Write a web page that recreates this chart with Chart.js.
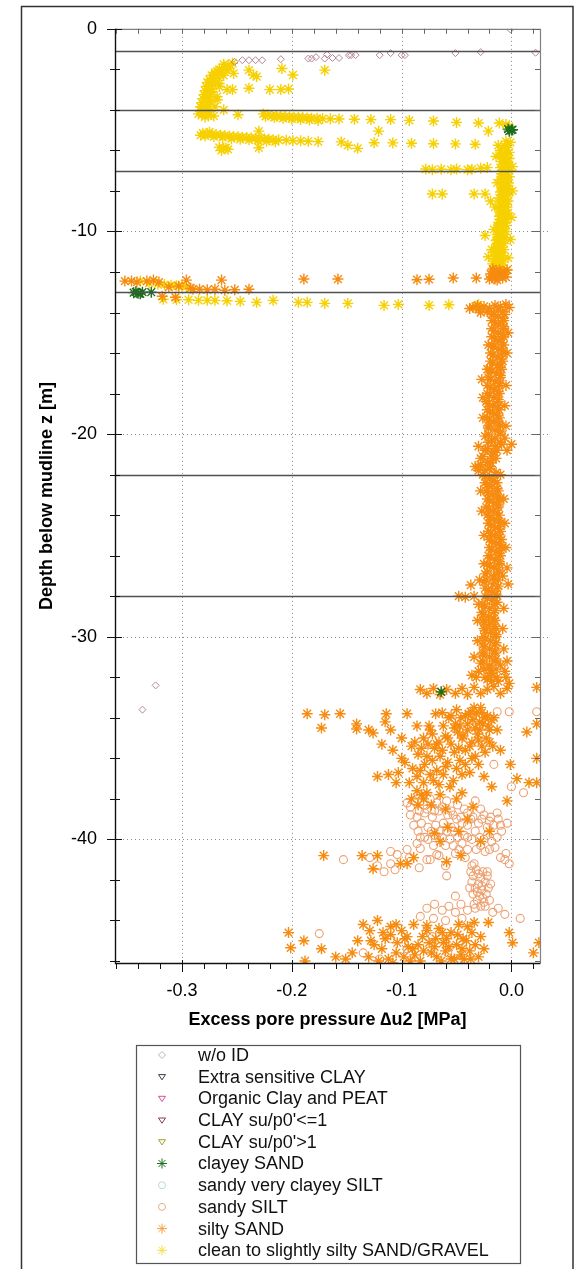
<!DOCTYPE html>
<html>
<head>
<meta charset="utf-8">
<script src="https://cdn.jsdelivr.net/npm/chart.js@4.4.1/dist/chart.umd.min.js"></script>
<style>
  html, body { margin: 0; padding: 0; background: #fff; }
  canvas { display: block; }
</style>
</head>
<body>
<canvas id="cptChart" width="575" height="1269"></canvas>
<script>
// --- Dados: [Δu2 (MPa), z (m)] ---

const seriesNames = [
    'w/o ID',
    'Extra sensitive CLAY',
    'Organic Clay and PEAT',
    "CLAY su/p0'<=1",
    "CLAY su/p0'>1",
    'clayey SAND',
    'sandy very clayey SILT',
    'sandy SILT',
    'silty SAND',
    'clean to slightly silty SAND/GRAVEL'
];

const xTickValues = [-0.3, -0.2, -0.1, 0.0];
const yTickValues = [0, -10, -20, -30, -40];
const layerDepths = [-1.1, -4, -7, -13, -22, -28];

const woId = [
    [-0.252,-1.63],[-0.245,-1.55],[-0.239,-1.55],[-0.233,-1.55],[-0.227,-1.55],[-0.210,-1.50],
    [-0.185,-1.47],[-0.182,-1.47],[-0.178,-1.40],[-0.170,-1.47],[-0.168,-1.27],[-0.163,-1.44],
    [-0.157,-1.44],[-0.148,-1.30],[-0.146,-1.30],[-0.142,-1.30],[-0.120,-1.30],[-0.110,-1.20],
    [-0.100,-1.30],[-0.097,-1.30],[-0.051,-1.20],[-0.028,-1.15],[-0.001,-0.03],[0.022,-1.18],
    [-0.324,-32.4],[-0.336,-33.6]
];
const extraSensitiveClay = [];
const organicClayPeat = [];
const claySuLow = [];
const claySuHigh = [];

const clayeySand = [
    [-0.003,-4.95],[0.000,-5.00],[-0.002,-5.05],[0.001,-4.98],
    [-0.344,-13.02],[-0.340,-13.05],[-0.336,-13.00],[-0.342,-12.98],[-0.338,-13.08],[-0.328,-13.00],
    [-0.064,-32.72]
];

const sandyVeryClayeySilt = [];

const sandySilt = [
    [-0.013,-33.7],[-0.002,-33.7],[0.023,-33.7],[-0.016,-36.3],[0.000,-37.4],[0.011,-37.7],
    [-0.095,-38.2],[-0.089,-38.1],[-0.080,-38.3],[-0.074,-38.0],[-0.068,-38.2],[-0.059,-38.1],[-0.049,-38.3],[-0.033,-38.1],
    [-0.092,-38.8],[-0.086,-38.9],[-0.079,-38.7],[-0.072,-38.9],[-0.066,-38.6],[-0.053,-38.8],[-0.046,-38.9],
    [-0.040,-38.7],[-0.025,-38.8],[-0.019,-38.9],[-0.013,-38.7],
    [-0.089,-39.3],[-0.082,-39.2],[-0.076,-39.4],[-0.069,-39.3],[-0.062,-39.2],[-0.055,-39.4],[-0.040,-39.3],
    [-0.030,-39.2],[-0.022,-39.4],[-0.016,-39.3],[-0.010,-39.3],[-0.004,-39.2],
    [-0.083,-39.9],[-0.076,-40.0],[-0.070,-39.8],[-0.063,-39.9],[-0.056,-40.0],[-0.049,-39.9],[-0.043,-39.8],
    [-0.036,-40.0],[-0.029,-39.9],[-0.022,-39.8],[-0.013,-39.9],
    [-0.092,-38.4],[-0.077,-38.5],[-0.063,-38.4],[-0.055,-38.6],[-0.043,-38.5],[-0.037,-39.0],[-0.027,-39.0],
    [-0.085,-39.6],[-0.073,-39.6],[-0.065,-39.6],[-0.052,-39.6],[-0.045,-39.2],[-0.033,-39.6],[-0.018,-40.1],
    [-0.009,-39.6],[-0.086,-40.2],[-0.060,-40.3],[-0.045,-40.2],[-0.040,-40.5],
    [-0.070,-38.6],[-0.084,-38.6],[-0.058,-38.8],[-0.050,-39.0],[-0.035,-38.9],[-0.028,-38.5],[-0.020,-39.1],
    [-0.012,-39.0],[-0.079,-39.9],[-0.059,-39.6],[-0.040,-39.9],[-0.025,-40.0],[-0.071,-40.3],[-0.053,-40.3],
    [-0.032,-40.5],[-0.015,-40.4],
    [-0.110,-40.6],[-0.104,-40.75],[-0.095,-40.5],[-0.083,-40.45],[-0.077,-41.0],[-0.068,-40.75],[-0.059,-41.8],
    [-0.051,-40.7],[-0.034,-41.2],[-0.024,-40.6],[-0.005,-40.7],[-0.002,-41.2],
    [-0.153,-41.0],[-0.129,-40.9],[-0.122,-41.3],[-0.116,-41.6],[-0.110,-41.2],[-0.106,-41.5],
    [-0.093,-40.9],[-0.084,-41.4],[-0.074,-41.0],[-0.066,-40.8],[-0.060,-41.3],[-0.048,-40.5],[-0.042,-40.9],
    [-0.036,-41.3],[-0.028,-40.3],[-0.020,-40.5],[-0.010,-40.9],[-0.006,-41.0],
    [-0.032,-41.5],[-0.026,-41.6],[-0.035,-41.8],[-0.028,-41.9],[-0.022,-41.8],[-0.036,-42.1],[-0.030,-42.2],
    [-0.024,-42.1],[-0.033,-42.4],[-0.027,-42.5],[-0.021,-42.4],[-0.035,-42.7],[-0.029,-42.8],[-0.023,-42.7],
    [-0.031,-43.0],[-0.025,-43.1],[-0.028,-43.3],[-0.034,-43.2],[-0.020,-43.0],[-0.030,-41.7],[-0.027,-42.3],
    [-0.031,-42.6],[-0.026,-42.9],[-0.038,-42.4],[-0.019,-42.2],[-0.022,-41.6],[-0.037,-41.6],[-0.033,-43.4],[-0.024,-43.3],
    [-0.077,-43.4],[-0.070,-43.2],[-0.063,-43.5],[-0.057,-43.3],[-0.051,-43.6],[-0.046,-43.2],[-0.040,-43.5],
    [-0.017,-43.6],[-0.012,-43.4],[-0.006,-43.7],[0.008,-43.9],[-0.051,-42.8],[-0.083,-43.8],[-0.071,-43.9],
    [-0.060,-44.0],[-0.045,-43.9],
    [-0.175,-44.65],[-0.110,-44.9],[-0.095,-45.4],[-0.072,-44.8],[-0.058,-45.6],[-0.048,-46.0],[-0.120,-45.9],[-0.135,-45.6]
];

const siltySand = [
    // camada -12 a -13
    [-0.352,-12.45],[-0.346,-12.45],[-0.341,-12.50],[-0.332,-12.45],[-0.326,-12.40],[-0.321,-12.50],[-0.312,-12.75],
    [-0.303,-12.70],[-0.296,-12.40],[-0.292,-12.80],[-0.290,-12.85],[-0.284,-12.85],[-0.277,-12.88],[-0.270,-12.85],
    [-0.264,-12.40],[-0.261,-12.90],[-0.252,-12.88],[-0.239,-12.85],[-0.318,-13.20],[-0.306,-13.25],
    [-0.189,-12.35],[-0.158,-12.35],[-0.086,-12.38],[-0.075,-12.36],[-0.053,-12.30],[-0.032,-12.30],
    [-0.016,-11.95],[-0.010,-12.00],[-0.014,-12.10],[-0.006,-12.05],[-0.012,-12.20],[-0.018,-12.25],[-0.008,-12.30],
    [-0.013,-12.40],[-0.020,-12.35],[-0.017,-11.85],[-0.004,-11.90],[-0.009,-12.15],[-0.015,-12.35],[-0.005,-12.25],
    [-0.011,-11.90],[-0.019,-12.10],
    // coluna -13.6 a -32.8
    [-0.035,-13.75],[-0.030,-13.85],[-0.025,-13.70],[-0.020,-13.80],[-0.015,-13.65],[-0.010,-13.70],[-0.005,-13.60],
    [-0.002,-13.75],[-0.012,-13.90],[-0.022,-13.95],[-0.028,-14.00],[-0.008,-13.95],[-0.018,-14.10],[-0.006,-14.10],
    [-0.031,-13.65],[-0.038,-13.80],
    [-0.016,-14.1],[-0.008,-14.3],[-0.015,-14.5],[-0.007,-14.7],[-0.016,-14.9],[-0.008,-15.1],[-0.015,-15.3],
    [-0.009,-15.5],[-0.016,-15.7],[-0.008,-15.9],[-0.017,-16.1],[-0.009,-16.3],[-0.017,-16.5],[-0.010,-16.7],
    [-0.018,-16.9],[-0.010,-17.1],[-0.027,-17.3],[-0.019,-17.3],[-0.011,-17.5],[-0.019,-17.7],[-0.012,-17.9],
    [-0.020,-18.1],[-0.012,-18.3],[-0.021,-18.5],[-0.013,-18.7],[-0.020,-18.9],[-0.012,-19.1],[-0.020,-19.3],
    [-0.011,-19.5],[-0.021,-19.7],[-0.010,-19.9],[-0.024,-20.1],[-0.006,-20.2],[-0.018,-20.3],[-0.009,-20.5],
    [-0.022,-20.7],[-0.004,-20.8],[-0.016,-20.9],[-0.026,-21.1],[-0.014,-21.2],[-0.028,-21.5],[-0.019,-21.4],
    [-0.030,-21.8],[-0.020,-21.7],[-0.014,-21.9],[-0.024,-22.1],[-0.016,-22.3],[-0.022,-22.5],[-0.013,-22.7],
    [-0.021,-22.9],[-0.013,-23.1],[-0.020,-23.3],[-0.012,-23.5],[-0.021,-23.7],[-0.013,-23.9],[-0.020,-24.1],
    [-0.012,-24.3],[-0.019,-24.5],[-0.011,-24.7],[-0.019,-24.9],[-0.011,-25.1],[-0.018,-25.3],[-0.010,-25.5],
    [-0.018,-25.7],[-0.011,-25.9],[-0.019,-26.1],[-0.011,-26.3],[-0.020,-26.5],[-0.012,-26.7],[-0.024,-26.9],
    [-0.008,-27.0],[-0.016,-27.1],[-0.037,-27.45],[-0.025,-27.3],[-0.012,-27.5],[-0.021,-27.7],[-0.048,-28.0],
    [-0.042,-28.05],[-0.034,-28.0],[-0.014,-27.9],[-0.022,-28.1],[-0.013,-28.3],[-0.024,-28.5],[-0.015,-28.7],
    [-0.026,-28.9],[-0.016,-29.1],[-0.025,-29.3],[-0.015,-29.5],[-0.024,-29.7],[-0.014,-29.9],[-0.024,-30.1],
    [-0.014,-30.3],[-0.025,-30.5],[-0.015,-30.7],[-0.026,-30.9],[-0.014,-31.1],[-0.028,-31.3],[-0.010,-31.4],
    [-0.020,-31.5],[-0.030,-31.7],[-0.006,-31.7],[-0.018,-31.8],[-0.032,-32.0],[-0.005,-32.0],[-0.022,-32.1],
    [-0.012,-32.2],
    [-0.012,-14.2],[-0.012,-14.6],[-0.012,-15.0],[-0.012,-15.4],[-0.012,-15.8],[-0.013,-16.2],[-0.013,-16.6],
    [-0.014,-17.0],[-0.015,-17.4],[-0.016,-17.8],[-0.016,-18.2],[-0.017,-18.6],[-0.016,-19.0],[-0.016,-19.4],
    [-0.015,-19.8],[-0.015,-20.2],[-0.015,-20.6],[-0.018,-21.0],[-0.022,-21.4],[-0.024,-21.8],[-0.020,-22.2],
    [-0.018,-22.6],[-0.017,-23.0],[-0.016,-23.4],[-0.017,-23.8],[-0.016,-24.2],[-0.015,-24.6],[-0.015,-25.0],
    [-0.014,-25.4],[-0.014,-25.8],[-0.015,-26.2],[-0.016,-26.6],[-0.016,-27.0],[-0.017,-27.4],[-0.018,-27.8],
    [-0.018,-28.2],[-0.020,-28.6],[-0.021,-29.0],[-0.020,-29.4],[-0.019,-29.8],[-0.019,-30.2],[-0.020,-30.6],
    [-0.020,-31.0],[-0.020,-31.4],[-0.019,-31.8],[-0.018,-32.2],
    [-0.018,-14.4],[-0.018,-14.8],[-0.018,-15.2],[-0.018,-15.6],[-0.019,-16.0],[-0.019,-16.4],[-0.020,-16.8],
    [-0.021,-17.2],[-0.022,-17.6],[-0.022,-18.0],[-0.023,-18.4],[-0.022,-18.8],[-0.022,-19.2],[-0.021,-19.6],
    [-0.021,-20.0],[-0.021,-20.4],[-0.024,-20.8],[-0.028,-21.2],[-0.030,-21.6],[-0.026,-22.0],[-0.024,-22.4],
    [-0.023,-22.8],[-0.022,-23.2],[-0.023,-23.6],[-0.022,-24.0],[-0.021,-24.4],[-0.021,-24.8],[-0.020,-25.2],
    [-0.020,-25.6],[-0.021,-26.0],[-0.022,-26.4],[-0.022,-26.8],[-0.023,-27.2],[-0.024,-27.6],[-0.024,-28.0],
    [-0.026,-28.4],[-0.027,-28.8],[-0.026,-29.2],[-0.025,-29.6],[-0.025,-30.0],[-0.026,-30.4],[-0.026,-30.8],
    [-0.026,-31.2],[-0.025,-31.6],[-0.024,-32.0],
    [-0.007,-14.4],[-0.007,-14.8],[-0.007,-15.2],[-0.007,-15.6],[-0.008,-16.0],[-0.008,-16.4],[-0.009,-16.8],
    [-0.010,-17.2],[-0.011,-17.6],[-0.011,-18.0],[-0.012,-18.4],[-0.011,-18.8],[-0.011,-19.2],[-0.010,-19.6],
    [-0.010,-20.0],[-0.010,-20.4],[-0.013,-20.8],[-0.017,-21.2],[-0.019,-21.6],[-0.015,-22.0],[-0.013,-22.4],
    [-0.012,-22.8],[-0.011,-23.2],[-0.012,-23.6],[-0.011,-24.0],[-0.010,-24.4],[-0.010,-24.8],[-0.009,-25.2],
    [-0.009,-25.6],[-0.010,-26.0],[-0.011,-26.4],[-0.011,-26.8],[-0.012,-27.2],[-0.013,-27.6],[-0.013,-28.0],
    [-0.015,-28.4],[-0.016,-28.8],[-0.015,-29.2],[-0.014,-29.6],[-0.014,-30.0],[-0.015,-30.4],[-0.015,-30.8],
    [-0.015,-31.2],[-0.014,-31.6],[-0.013,-32.0],
    [-0.003,-15.0],[-0.021,-15.6],[-0.004,-16.0],[-0.022,-16.8],[-0.005,-17.6],[-0.026,-18.2],[-0.006,-18.6],
    [-0.026,-19.2],[-0.005,-19.6],[-0.030,-20.6],[0.000,-20.5],[-0.033,-21.6],[-0.010,-22.0],[-0.028,-22.8],
    [-0.007,-23.2],[-0.027,-23.8],[-0.006,-24.4],[-0.025,-25.0],[-0.005,-25.6],[-0.025,-26.4],[-0.004,-26.6],
    [-0.029,-27.2],[-0.003,-27.4],[-0.030,-28.4],[-0.007,-28.6],[-0.031,-29.2],[-0.008,-29.6],[-0.031,-30.2],
    [-0.007,-30.6],[-0.034,-31.0],[-0.004,-31.2],[-0.036,-31.9],[-0.002,-32.3],
    [-0.083,-32.6],[-0.077,-32.8],[-0.071,-32.55],[-0.065,-32.85],[-0.059,-32.6],[-0.051,-32.8],[-0.045,-32.55],
    [-0.040,-32.85],[-0.034,-32.5],[-0.028,-32.8],[-0.022,-32.6],[-0.016,-32.45],[-0.010,-32.8],[-0.004,-32.55],
    [0.023,-32.5],
    // zona profunda -33.5 a -46
    [-0.186,-33.8],[-0.170,-33.85],[-0.156,-33.8],[-0.173,-34.5],[-0.141,-34.3],[-0.141,-34.55],[-0.130,-34.6],
    [-0.126,-34.75],[-0.114,-33.8],[-0.115,-34.2],[-0.110,-34.6],[-0.100,-35.0],[-0.095,-33.8],[-0.086,-34.4],
    [-0.075,-34.4],[-0.069,-33.8],[-0.063,-33.75],[-0.062,-34.4],[-0.051,-34.3],
    [-0.042,-33.9],[-0.037,-33.7],[-0.032,-33.8],[-0.027,-33.75],[-0.022,-33.9],[-0.035,-34.1],[-0.029,-34.2],
    [-0.024,-34.0],[-0.018,-34.1],[-0.013,-34.6],[-0.010,-35.6],[-0.001,-36.3],[0.014,-34.7],[0.023,-34.3],[0.023,-36.0],
    [-0.050,-33.6],[-0.046,-34.0],[-0.040,-34.3],[-0.033,-34.5],[-0.026,-34.3],[-0.020,-34.6],[-0.016,-34.0],
    [-0.044,-34.9],[-0.038,-35.4],[-0.030,-35.1],[-0.023,-35.0],[-0.048,-35.5],[-0.057,-34.0],[-0.058,-35.0],
    [-0.034,-33.5],[-0.028,-33.5],
    [-0.055,-33.9],[-0.047,-34.4],[-0.039,-33.8],[-0.021,-34.4],[-0.017,-35.4],[-0.029,-34.6],[-0.052,-34.5],
    [-0.068,-35.3],[-0.074,-34.6],[-0.050,-36.5],[-0.042,-36.3],[-0.036,-36.0],[-0.080,-37.2],[-0.066,-37.3],
    [-0.100,-36.0],[-0.105,-37.2],[-0.091,-38.0],[-0.073,-38.3],[-0.050,-38.0],
    [-0.080,-35.0],[-0.072,-34.8],[-0.066,-35.2],[-0.060,-34.9],[-0.055,-35.3],[-0.049,-34.7],[-0.045,-35.0],
    [-0.040,-34.6],[-0.036,-35.2],[-0.031,-34.8],[-0.027,-35.4],[-0.042,-35.6],[-0.052,-35.7],[-0.063,-35.6],
    [-0.070,-35.5],[-0.077,-35.9],[-0.085,-35.8],[-0.091,-35.4],[-0.033,-35.9],[-0.024,-35.7],[-0.020,-35.2],[-0.047,-36.1],
    [-0.088,-35.2],[-0.082,-35.5],[-0.076,-35.3],[-0.072,-36.1],[-0.065,-35.9],[-0.058,-36.2],[-0.079,-36.3],
    [-0.086,-36.9],[-0.071,-37.1],[-0.062,-36.8],[-0.056,-37.4],[-0.093,-37.2],[-0.097,-36.2],[-0.108,-35.6],[-0.118,-35.3],
    [-0.122,-36.9],[-0.112,-36.8],[-0.103,-36.7],[-0.090,-36.5],[-0.083,-36.6],[-0.074,-36.8],[-0.068,-36.6],
    [-0.053,-37.1],[-0.045,-36.8],[-0.038,-36.7],[-0.025,-36.9],[-0.018,-37.4],[0.005,-37.0],[0.016,-37.2],
    [0.023,-37.2],[-0.060,-36.4],[-0.030,-36.3],
    [-0.086,-37.6],[-0.082,-37.8],[-0.077,-37.7],[-0.080,-38.0],[-0.065,-37.8],[-0.045,-37.7],[-0.004,-38.1],
    [-0.085,-38.3],[-0.060,-38.5],[-0.035,-38.4],[-0.048,-39.6],[-0.070,-39.7],[-0.020,-39.6],
    [-0.058,-39.4],[-0.040,-39.0],[-0.028,-40.1],
    [-0.171,-40.8],[-0.136,-40.8],[-0.122,-40.8],[-0.126,-41.45],[-0.101,-41.2],[-0.095,-41.2],[-0.089,-40.9],
    [-0.065,-40.1],[-0.059,-41.1],[-0.046,-40.8],
    [-0.203,-44.6],[-0.201,-45.35],[-0.189,-45.0],[-0.188,-46.0],[-0.173,-45.4],[-0.129,-44.5],[-0.145,-45.6],
    [-0.151,-45.9],[-0.130,-45.8],[-0.110,-44.3],[-0.110,-44.7],[-0.104,-45.1],[-0.089,-44.2],[-0.077,-44.25],
    [-0.077,-44.5],[-0.075,-45.1],[-0.070,-45.3],[-0.059,-44.9],[-0.055,-44.6],[-0.050,-45.2],[-0.046,-45.7],
    [-0.040,-44.3],[-0.036,-44.6],[-0.033,-45.2],[-0.021,-44.1],[-0.002,-44.6],[0.001,-45.1],[0.020,-45.6],[0.025,-45.1],
    [-0.118,-45.4],[-0.112,-45.9],[-0.105,-45.6],[-0.098,-45.8],[-0.094,-45.3],[-0.088,-45.7],[-0.083,-46.0],
    [-0.080,-45.5],[-0.068,-45.8],[-0.064,-46.0],[-0.060,-45.5],[-0.052,-45.9],[-0.043,-45.9],[-0.038,-45.5],
    [-0.095,-44.8],[-0.066,-44.4],[-0.048,-44.2],
    [-0.140,-45.0],[-0.125,-45.2],[-0.115,-44.9],[-0.100,-44.5],[-0.092,-46.0],[-0.085,-45.2],[-0.073,-45.6],
    [-0.062,-45.1],[-0.055,-45.9],[-0.045,-45.4],[-0.041,-45.0],[-0.030,-45.8],[-0.025,-45.4],[-0.108,-46.1],
    [-0.121,-46.0],[-0.160,-45.8],[-0.135,-44.2],[-0.122,-44.0],
    [-0.128,-45.0],[-0.117,-44.6],[-0.105,-44.2],[-0.097,-44.9],[-0.090,-45.4],[-0.081,-44.8],[-0.069,-44.9],
    [-0.063,-44.6],[-0.057,-45.3],[-0.049,-44.7],[-0.044,-44.9],[-0.037,-45.9],[-0.034,-44.1],[-0.028,-44.8]
];

const cleanSand = [
    // arco -1.7 a -4.3
    [-0.254,-1.70],[-0.258,-1.80],[-0.262,-1.90],[-0.266,-2.00],[-0.259,-2.05],[-0.270,-2.15],[-0.264,-2.20],
    [-0.273,-2.30],[-0.267,-2.40],[-0.275,-2.50],[-0.270,-2.55],[-0.277,-2.65],[-0.272,-2.75],[-0.278,-2.85],
    [-0.273,-2.95],[-0.279,-3.05],[-0.274,-3.15],[-0.280,-3.25],[-0.275,-3.35],[-0.281,-3.45],[-0.276,-3.55],
    [-0.282,-3.65],[-0.277,-3.75],[-0.283,-3.85],[-0.278,-3.95],[-0.283,-4.05],[-0.278,-4.15],[-0.282,-4.25],[-0.276,-4.30],
    [-0.262,-1.75],[-0.268,-2.10],[-0.262,-2.30],[-0.271,-2.60],[-0.266,-2.85],[-0.273,-3.10],[-0.268,-3.35],
    [-0.274,-3.60],[-0.270,-3.85],[-0.276,-4.10],[-0.271,-4.30],[-0.257,-1.95],[-0.266,-2.70],[-0.268,-3.50],
    [-0.285,-4.20],[-0.279,-4.35],
    [-0.253,-2.20],[-0.239,-2.04],[-0.235,-2.28],[-0.232,-2.36],[-0.209,-1.96],[-0.199,-2.28],[-0.170,-2.04],
    [-0.259,-3.00],[-0.254,-3.00],[-0.239,-2.93],[-0.220,-3.00],[-0.210,-3.00],[-0.203,-2.97],[-0.262,-4.00],[-0.249,-4.24],
    // linha superior -4.2 a -4.8
    [-0.226,-4.20],[-0.222,-4.25],[-0.218,-4.28],[-0.214,-4.30],[-0.210,-4.32],[-0.206,-4.33],[-0.202,-4.35],
    [-0.198,-4.36],[-0.194,-4.37],[-0.190,-4.38],[-0.186,-4.40],[-0.182,-4.41],[-0.177,-4.42],[-0.172,-4.43],
    [-0.224,-4.32],[-0.216,-4.38],[-0.208,-4.42],[-0.200,-4.45],[-0.192,-4.47],[-0.184,-4.50],[-0.176,-4.52],
    [-0.165,-4.44],[-0.157,-4.45],[-0.143,-4.46],[-0.128,-4.48],[-0.121,-5.05],[-0.110,-4.48],[-0.093,-4.52],
    [-0.071,-4.55],[-0.050,-4.62],[-0.030,-4.65],[-0.021,-5.05],[-0.011,-4.65],[-0.005,-4.72],[-0.002,-4.82],
    // linha inferior -5.1 a -6.0
    [-0.281,-5.15],[-0.277,-5.18],[-0.273,-5.20],[-0.269,-5.22],[-0.265,-5.25],[-0.261,-5.27],[-0.257,-5.30],
    [-0.253,-5.32],[-0.249,-5.33],[-0.245,-5.35],[-0.241,-5.37],[-0.237,-5.38],[-0.233,-5.40],[-0.229,-5.42],
    [-0.225,-5.43],[-0.221,-5.45],[-0.217,-5.47],[-0.212,-5.48],[-0.205,-5.50],[-0.199,-5.52],[-0.192,-5.53],
    [-0.279,-5.28],[-0.271,-5.32],[-0.263,-5.36],[-0.255,-5.42],[-0.247,-5.45],[-0.239,-5.48],[-0.231,-5.50],
    [-0.223,-5.55],[-0.215,-5.57],[-0.275,-5.10],[-0.283,-5.25],
    [-0.185,-5.55],[-0.176,-5.57],[-0.155,-5.58],[-0.149,-5.75],[-0.140,-5.90],[-0.125,-5.62],[-0.108,-5.63],
    [-0.091,-5.65],[-0.071,-5.67],[-0.051,-5.68],[-0.033,-5.70],[-0.230,-5.05],[-0.230,-5.87],
    [-0.266,-5.85],[-0.262,-5.90],[-0.258,-5.95],[-0.264,-6.00],[-0.260,-5.88],
    // coluna -5.6 a -11.8
    [-0.012,-5.75],[-0.004,-5.85],[-0.010,-6.00],[-0.002,-6.10],[-0.009,-6.25],[-0.002,-6.40],[-0.009,-6.55],
    [-0.003,-6.70],[-0.010,-6.85],[-0.002,-7.00],[-0.009,-7.15],[-0.002,-7.30],[-0.010,-7.45],[-0.003,-7.60],
    [-0.009,-7.75],[-0.002,-7.90],[-0.010,-8.05],[-0.003,-8.20],[-0.011,-8.35],[-0.003,-8.50],[-0.010,-8.65],
    [-0.004,-8.80],[-0.011,-8.95],[-0.003,-9.10],[-0.011,-9.25],[-0.004,-9.40],[-0.012,-9.55],[-0.005,-9.70],
    [-0.012,-9.85],[-0.005,-10.00],[-0.013,-10.15],[-0.006,-10.30],[-0.014,-10.45],[-0.007,-10.60],[-0.014,-10.75],
    [-0.007,-10.90],[-0.015,-11.05],[-0.008,-11.20],[-0.015,-11.35],[-0.008,-11.50],[-0.014,-11.65],[-0.008,-11.80],
    [-0.006,-5.80],[-0.006,-6.20],[-0.005,-6.60],[-0.006,-7.00],[-0.005,-7.40],[-0.006,-7.80],[-0.007,-8.20],
    [-0.007,-8.60],[-0.007,-9.00],[-0.008,-9.40],[-0.009,-9.80],[-0.010,-10.20],[-0.011,-10.60],[-0.011,-11.00],
    [-0.012,-11.40],[-0.011,-11.80],
    [-0.004,-6.00],[-0.004,-6.40],[-0.003,-6.80],[-0.004,-7.20],[-0.003,-7.60],[-0.004,-8.00],[-0.005,-8.40],
    [-0.005,-8.80],[-0.005,-9.20],[-0.006,-9.60],[-0.007,-10.00],[-0.008,-10.40],[-0.009,-10.80],[-0.009,-11.20],
    [-0.010,-11.60],
    [-0.009,-6.00],[-0.008,-6.40],[-0.008,-6.80],[-0.008,-7.20],[-0.008,-7.60],[-0.009,-8.00],[-0.010,-8.40],
    [-0.010,-8.80],[-0.010,-9.20],[-0.011,-9.60],[-0.012,-10.00],[-0.013,-10.40],[-0.014,-10.80],[-0.014,-11.20],
    [-0.014,-11.60],
    [-0.014,-6.30],[0.001,-6.80],[-0.013,-7.60],[0.001,-8.00],[-0.015,-8.80],[0.000,-9.30],[-0.016,-9.90],
    [-0.001,-10.40],[-0.018,-10.90],[-0.003,-11.30],[-0.017,-11.60],[-0.004,-11.90],
    [-0.078,-6.92],[-0.072,-6.95],[-0.064,-6.93],[-0.055,-6.95],[-0.050,-6.92],[-0.040,-6.95],[-0.036,-6.93],
    [-0.028,-6.88],[-0.022,-6.85],[-0.072,-8.15],[-0.063,-8.15],[-0.034,-8.15],[-0.024,-8.15],[-0.019,-8.50],
    [-0.024,-10.20],[-0.021,-11.25],[-0.001,-5.60],[-0.005,-5.55],
    // -12.4 a -13.7
    [-0.338,-12.45],[-0.330,-12.55],[-0.322,-12.60],[-0.316,-12.62],[-0.310,-12.65],[-0.305,-12.68],[-0.300,-12.70],[-0.296,-12.72],
    [-0.317,-13.35],[-0.305,-13.37],[-0.294,-13.37],[-0.285,-13.40],[-0.277,-13.40],[-0.270,-13.40],[-0.259,-13.42],
    [-0.247,-13.45],[-0.232,-13.50],[-0.217,-13.40],[-0.194,-13.50],[-0.186,-13.50],[-0.170,-13.55],[-0.149,-13.55],
    [-0.116,-13.65],[-0.103,-13.60],[-0.075,-13.65],[-0.057,-13.62],[-0.033,-13.70],[-0.030,-13.62]
];

// Estilos das séries (na ordem da legenda)
const seriesData = [woId, extraSensitiveClay, organicClayPeat, claySuLow, claySuHigh,
                    clayeySand, sandyVeryClayeySilt, sandySilt, siltySand, cleanSand];
const seriesStyle = [
    { shape: 'rectRot', radius: 3.5, width: 1, color: '#b48592', legendColor: '#c8a8b8', order: 1 },
    { shape: 'triDown', radius: 4, width: 1, color: '#3a3a4a', legendColor: '#3a3a4a', order: 6 },
    { shape: 'triDown', radius: 4, width: 1, color: '#d0509a', legendColor: '#d0509a', order: 6 },
    { shape: 'triDown', radius: 4, width: 1, color: '#8a3a5a', legendColor: '#8a3a5a', order: 6 },
    { shape: 'triDown', radius: 4, width: 1, color: '#a0a028', legendColor: '#a0a028', order: 6 },
    { shape: 'star', radius: 5.5, width: 1.4, color: '#1b6e1b', legendColor: '#1b6e1b', order: 0 },
    { shape: 'circle', radius: 4, width: 1, color: '#b8d8d8', legendColor: '#b8d8d8', order: 6 },
    { shape: 'circle', radius: 4, width: 1.1, color: '#eda070', legendColor: '#e0b080', order: 3 },
    { shape: 'star', radius: 5.5, width: 1.4, color: '#f68b0f', legendColor: '#f0a040', order: 2 },
    { shape: 'star', radius: 5.5, width: 1.4, color: '#f7d000', legendColor: '#f0e040', order: 5 }
];

const FONT = "Arial, 'Liberation Sans', sans-serif";
Chart.defaults.font.family = FONT;
Chart.defaults.color = '#000';

function chartPointStyle(shape) {
    if (shape === 'triDown') return 'triangle';
    return shape;
}

const datasets = seriesNames.map((name, i) => {
    const st = seriesStyle[i];
    return {
        label: name,
        data: seriesData[i].map(p => ({ x: p[0], y: p[1] })),
        pointStyle: chartPointStyle(st.shape),
        rotation: st.shape === 'triDown' ? 180 : 0,
        pointRadius: st.radius,
        pointBorderWidth: st.width,
        pointBorderColor: st.color,
        pointBackgroundColor: 'rgba(0,0,0,0)',
        order: st.order
    };
});

// desenha um marcador da legenda
function drawMarker(ctx, shape, x, y, r, color) {
    ctx.save();
    ctx.strokeStyle = color;
    ctx.lineWidth = 1;
    ctx.beginPath();
    if (shape === 'rectRot') {
        ctx.moveTo(x, y - r); ctx.lineTo(x + r, y); ctx.lineTo(x, y + r); ctx.lineTo(x - r, y); ctx.closePath();
    } else if (shape === 'triDown') {
        ctx.moveTo(x - r, y - r * 0.6); ctx.lineTo(x + r, y - r * 0.6); ctx.lineTo(x, y + r * 0.9); ctx.closePath();
    } else if (shape === 'circle') {
        ctx.arc(x, y, r, 0, Math.PI * 2);
    } else if (shape === 'star') {
        const d = r * Math.SQRT1_2;
        ctx.moveTo(x - r, y); ctx.lineTo(x + r, y);
        ctx.moveTo(x, y - r); ctx.lineTo(x, y + r);
        ctx.moveTo(x - d, y - d); ctx.lineTo(x + d, y + d);
        ctx.moveTo(x - d, y + d); ctx.lineTo(x + d, y - d);
    }
    ctx.stroke();
    ctx.restore();
}

// --- Plugin: moldura, grelha pontilhada, ticks menores, camadas e legenda ---
const framePlugin = {
    id: 'frame',
    beforeDatasetsDraw(chart) {
        const { ctx, chartArea: a, scales: { x, y } } = chart;
        ctx.save();
        ctx.strokeStyle = '#8a8a8a';
        ctx.lineWidth = 1;
        ctx.setLineDash([1, 3]);
        xTickValues.forEach(v => {
            const px = Math.round(x.getPixelForValue(v)) + 0.5;
            ctx.beginPath(); ctx.moveTo(px, a.top); ctx.lineTo(px, a.bottom); ctx.stroke();
        });
        yTickValues.forEach(v => {
            if (v === 0) return;
            const py = Math.round(y.getPixelForValue(v)) + 0.5;
            ctx.beginPath(); ctx.moveTo(a.left - 8, py); ctx.lineTo(a.right + 8, py); ctx.stroke();
        });
        ctx.restore();
    },
    afterDatasetsDraw(chart) {
        const { ctx, chartArea: a, scales: { x, y } } = chart;
        ctx.save();
        // limites das camadas
        ctx.strokeStyle = '#505050';
        ctx.lineWidth = 1.3;
        layerDepths.forEach(d => {
            const py = Math.round(y.getPixelForValue(d)) + 0.5;
            ctx.beginPath(); ctx.moveTo(a.left, py); ctx.lineTo(a.right, py); ctx.stroke();
        });

        // bordas superior e direita
        ctx.strokeStyle = '#808080';
        ctx.lineWidth = 1.2;
        ctx.beginPath();
        ctx.moveTo(a.left, a.top + 0.5); ctx.lineTo(a.right + 0.5, a.top + 0.5); ctx.lineTo(a.right + 0.5, a.bottom);
        ctx.stroke();

        // eixos esquerdo e inferior
        ctx.strokeStyle = '#111';
        ctx.lineWidth = 1.4;
        ctx.beginPath();
        ctx.moveTo(a.left + 0.5, a.top); ctx.lineTo(a.left + 0.5, a.bottom + 0.5); ctx.lineTo(a.right + 0.5, a.bottom + 0.5);
        ctx.stroke();

        // ticks
        ctx.lineWidth = 1;
        for (let v = -0.36; v <= 0.0261; v += 0.02) {
            const px = Math.round(x.getPixelForValue(v)) + 0.5;
            const major = xTickValues.some(t => Math.abs(t - v) < 1e-6);
            ctx.strokeStyle = '#111';
            ctx.beginPath();
            ctx.moveTo(px, a.bottom - (major ? 3 : 0)); ctx.lineTo(px, a.bottom + (major ? 9 : 6));
            ctx.stroke();
            ctx.strokeStyle = '#666';
            ctx.beginPath();
            ctx.moveTo(px, a.top); ctx.lineTo(px, a.top + 5);
            ctx.stroke();
        }
        for (let v = 0; v >= -46; v -= 2) {
            const py = Math.round(y.getPixelForValue(v)) + 0.5;
            const major = v % 10 === 0;
            ctx.strokeStyle = '#111';
            ctx.beginPath();
            ctx.moveTo(a.left - (major ? 8 : 5), py); ctx.lineTo(a.left + (major ? 7 : 5), py);
            ctx.stroke();
            ctx.strokeStyle = '#666';
            ctx.beginPath();
            ctx.moveTo(a.right - (major ? 8 : 5), py); ctx.lineTo(a.right, py);
            ctx.stroke();
        }
        ctx.restore();
    },
    afterDraw(chart) {
        const { ctx } = chart;
        ctx.save();
        // moldura exterior
        ctx.strokeStyle = '#333';
        ctx.lineWidth = 1.5;
        ctx.strokeRect(21.5, 6.5, 551.5, 1280);

        // legenda
        const box = { left: 136.5, top: 1045.5, right: 520.5, bottom: 1263.5 };
        ctx.strokeStyle = '#555';
        ctx.lineWidth = 1.2;
        ctx.strokeRect(box.left, box.top, box.right - box.left, box.bottom - box.top);
        ctx.font = '18px ' + FONT;
        ctx.fillStyle = '#111';
        ctx.textBaseline = 'middle';
        seriesNames.forEach((name, i) => {
            const yy = 1055 + i * 21.7;
            const st = seriesStyle[i];
            drawMarker(ctx, st.shape, 162, yy, st.shape === 'star' ? 5 : 3.5, st.legendColor);
            ctx.fillText(name, 198, yy + 1);
        });
        ctx.restore();
    }
};

const ctx = document.getElementById('cptChart').getContext('2d');
const cptChart = new Chart(ctx, {
    type: 'scatter',
    data: { datasets: datasets },
    options: {
        responsive: false,
        animation: false,
        layout: { padding: { left: 32, right: 35, top: 20, bottom: 234 } },
        plugins: {
            legend: { display: false },
            tooltip: { enabled: false }
        },
        scales: {
            x: {
                type: 'linear',
                min: -0.361,
                max: 0.026,
                grid: { display: false, drawTicks: false },
                border: { display: false },
                afterBuildTicks: s => { s.ticks = xTickValues.map(v => ({ value: v })); },
                afterFit: s => { s.height = 72; },
                ticks: {
                    padding: 17,
                    font: { size: 18 },
                    color: '#000',
                    callback: v => v.toFixed(1)
                },
                title: {
                    display: true,
                    text: 'Excess pore pressure \u2206u2 [MPa]',
                    font: { size: 18, weight: 'bold' },
                    color: '#000',
                    padding: { top: 4, bottom: 4 }
                }
            },
            y: {
                type: 'linear',
                min: -46.1,
                max: 0,
                grid: { display: false, drawTicks: false },
                border: { display: false },
                afterBuildTicks: s => { s.ticks = yTickValues.map(v => ({ value: v })); },
                afterFit: s => { s.width = 83; },
                ticks: {
                    padding: 18,
                    font: { size: 18 },
                    color: '#000',
                    callback: v => String(v)
                },
                title: {
                    display: true,
                    text: 'Depth below mudline z [m]',
                    font: { size: 18, weight: 'bold' },
                    color: '#000',
                    padding: { top: 4, bottom: 4 }
                }
            }
        }
    },
    plugins: [framePlugin]
});
</script>
</body>
</html>
